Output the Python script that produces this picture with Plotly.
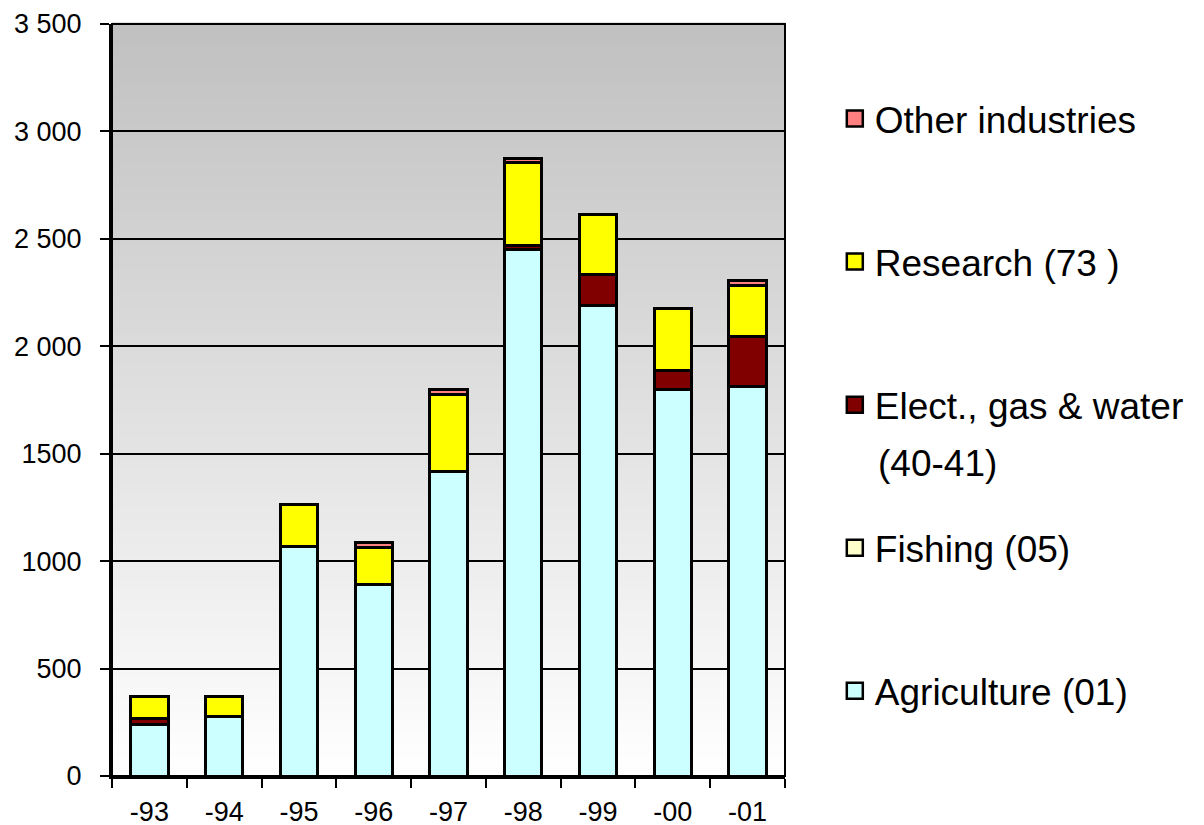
import plotly.graph_objects as go

years = ["-93", "-94", "-95", "-96", "-97", "-98", "-99", "-00", "-01"]
agriculture = [240, 275, 1070, 890, 1415, 2450, 2190, 1800, 1815]
fishing = [0, 0, 0, 0, 0, 0, 0, 0, 0]
elect = [28, 0, 0, 0, 0, 20, 145, 85, 232]
research = [102, 97, 195, 175, 360, 385, 280, 290, 237]
other = [0, 0, 0, 20, 25, 20, 0, 0, 23]

series_names = ["Agriculture (01)", "Fishing (05)", "Elect., gas & water",
                "Research (73 )", "Other industries"]
elect_name_line2 = "(40-41)"
series_values = [agriculture, fishing, elect, research, other]
series_colors = ["#CCFFFF", "#FFFFCC", "#800000", "#FFFF00", "#FF8080"]

y_tickvals = [0, 500, 1000, 1500, 2000, 2500, 3000, 3500]
y_ticktext = ["0", "500", "1000", "1500", "2 000", "2 500", "3 000", "3 500"]

fig = go.Figure()
nser = len(series_names)
for i, (name, vals, col) in enumerate(zip(series_names, series_values, series_colors)):
    fig.add_trace(go.Bar(
        x=years, y=vals, name=name, showlegend=False,
        marker=dict(color=col, line=dict(color="black", width=3)),
    ))
# legend entries (large square swatches)
for i, (name, col) in enumerate(zip(series_names, series_colors)):
    fig.add_trace(go.Scatter(
        x=[None], y=[None], mode="markers", name=name,
        marker=dict(symbol="square", size=20, color=col, line=dict(color="black", width=2.5)),
        legendgroup=f"g{i}", legendrank=nser - i, showlegend=True,
    ))

# gradient background
shapes = []
n = 120
for k in range(n):
    t0 = k / n
    t1 = (k + 1) / n
    tm = (t0 + t1) / 2  # 0 bottom, 1 top
    v = int(round(255 - (255 - 192) * tm))
    shapes.append(dict(type="rect", xref="x domain", yref="y domain",
                       x0=0, x1=1, y0=t0, y1=t1 + 0.002, layer="below",
                       line=dict(width=0), fillcolor=f"rgb({v},{v},{v})"))
shapes.append(dict(type="rect", xref="x domain", yref="y domain",
                   x0=0, x1=1, y0=0, y1=1, layer="above",
                   line=dict(width=2, color="black"), fillcolor="rgba(0,0,0,0)"))
fig.update_layout(shapes=shapes)

font_family = "Liberation Sans, Arial, sans-serif"
fig.add_annotation(text=elect_name_line2, xref="paper", yref="paper",
                   x=1.135, y=0.415, xanchor="left", yanchor="middle", showarrow=False,
                   font=dict(size=37, family=font_family, color="black"))

fig.update_layout(
    width=1204, height=825,
    margin=dict(l=104, r=427, t=16, b=57, autoexpand=False),
    paper_bgcolor="white", plot_bgcolor="white",
    barmode="stack", bargap=0.5,
    font=dict(family=font_family, color="black"),
    showlegend=True,
    legend=dict(
        x=1.074, y=0.915, xanchor="left", yanchor="top",
        traceorder="grouped", tracegroupgap=92,
        font=dict(size=37, family=font_family, color="black"),
        bgcolor="rgba(0,0,0,0)", itemsizing="trace",
    ),
    xaxis=dict(
        type="category", showgrid=False, showline=True, linecolor="black", linewidth=3,
        ticks="outside", tickson="boundaries", ticklen=9, tickwidth=2, tickcolor="black",
        tickfont=dict(size=27, family=font_family, color="black"),
        ticklabelstandoff=10, automargin=False,
    ),
    yaxis=dict(
        range=[0, 3500], tickvals=y_tickvals, ticktext=y_ticktext,
        showgrid=True, gridcolor="black", gridwidth=2,
        showline=True, linecolor="black", linewidth=3,
        ticks="outside", ticklen=9, tickwidth=2, tickcolor="black",
        tickfont=dict(size=27, family=font_family, color="black"),
        ticklabelstandoff=13, ticklabeloverflow="allow", automargin=False,
        zeroline=False, layer="above traces",
    ),
)

fig.write_html("out.html")
